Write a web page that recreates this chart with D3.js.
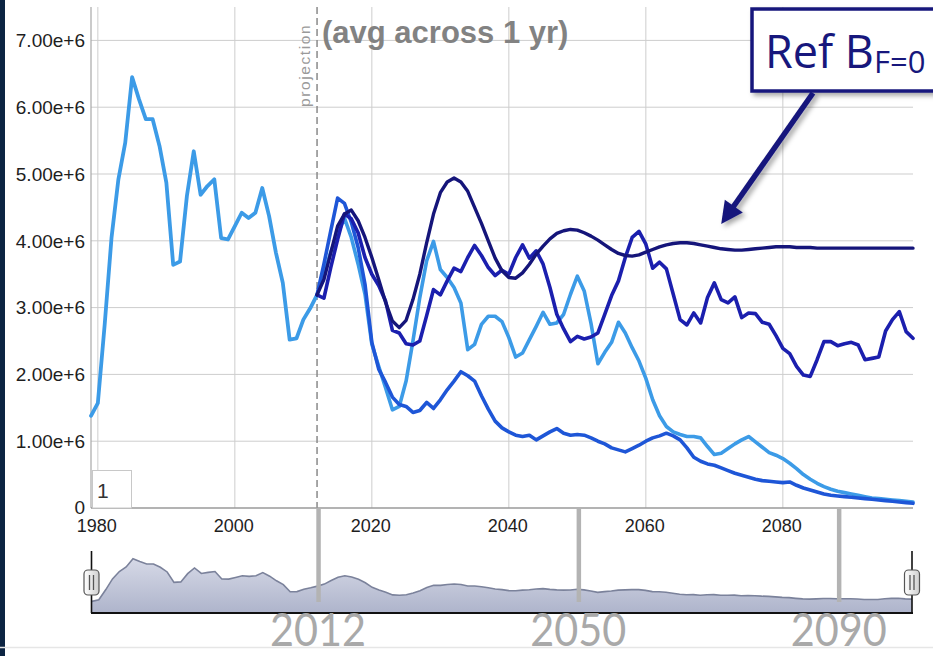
<!DOCTYPE html>
<html><head><meta charset="utf-8">
<script src="https://cdn.jsdelivr.net/npm/d3@7"></script>
<style>
html,body{margin:0;padding:0;background:#fff;overflow:hidden;}
svg{display:block;}
</style></head>
<body>
<svg id="c" width="933" height="656"></svg>
<script>
// ---------- DATA (values in millions) ----------
const histYears = d3.range(1979, 2013);
const histValues = [1.38,1.57,2.75,4.05,4.92,5.47,6.45,6.12,5.82,5.82,
                    5.42,4.87,3.64,3.69,4.67,5.34,4.69,4.82,4.92,4.04,
                    4.02,4.22,4.42,4.34,4.42,4.79,4.37,3.82,3.37,2.52,
                    2.54,2.82,2.99,3.19];
const projYears = d3.range(2012, 2100);
const refF0 = [3.19,3.42,3.82,4.22,4.40,4.46,4.30,4.05,3.75,3.42,
               3.08,2.80,2.70,2.81,3.12,3.50,3.97,4.40,4.72,4.88,
               4.94,4.88,4.74,4.50,4.26,4.00,3.74,3.55,3.45,3.44,
               3.52,3.65,3.80,3.92,4.03,4.11,4.15,4.17,4.16,4.12,
               4.07,4.01,3.94,3.87,3.81,3.78,3.77,3.79,3.83,3.87,
               3.91,3.94,3.96,3.97,3.97,3.96,3.94,3.92,3.90,3.88,
               3.87,3.86,3.86,3.87,3.88,3.89,3.90,3.91,3.91,3.91,
               3.90,3.90,3.90,3.89,3.89,3.89,3.89,3.89,3.89,3.89,
               3.89,3.89,3.89,3.89,3.89,3.89,3.89,3.89];
const scenZig = [3.19,3.14,3.60,4.02,4.40,4.33,4.12,3.75,3.50,3.33,
                 3.10,2.66,2.62,2.46,2.44,2.50,2.88,3.27,3.19,3.40,
                 3.59,3.54,3.75,3.93,3.78,3.60,3.48,3.56,3.50,3.75,
                 3.94,3.74,3.85,3.65,3.30,2.90,2.68,2.49,2.57,2.53,
                 2.56,2.62,2.90,3.18,3.40,3.75,4.05,4.14,3.95,3.59,
                 3.68,3.58,3.20,2.82,2.74,2.92,2.77,3.15,3.37,3.12,
                 3.07,3.16,2.85,2.92,2.91,2.78,2.75,2.58,2.39,2.31,
                 2.12,1.99,1.97,2.22,2.49,2.49,2.43,2.46,2.48,2.44,
                 2.22,2.24,2.26,2.65,2.82,2.94,2.64,2.54];
const scenMedium = [3.19,3.65,4.15,4.64,4.56,4.28,3.90,3.35,2.48,2.08,
                    1.88,1.66,1.55,1.52,1.43,1.46,1.58,1.49,1.62,1.77,
                    1.90,2.04,1.98,1.90,1.68,1.48,1.30,1.20,1.14,1.09,
                    1.07,1.09,1.02,1.08,1.14,1.19,1.12,1.09,1.10,1.09,
                    1.05,1.00,0.96,0.90,0.87,0.84,0.89,0.94,1.00,1.05,
                    1.08,1.12,1.08,1.02,0.90,0.76,0.70,0.66,0.64,0.60,
                    0.56,0.52,0.49,0.46,0.43,0.41,0.40,0.39,0.38,0.39,
                    0.34,0.30,0.27,0.24,0.21,0.19,0.18,0.17,0.16,0.15,
                    0.14,0.13,0.12,0.11,0.10,0.09,0.08,0.07];
const scenLight = [3.19,3.50,3.83,4.10,4.34,4.05,3.65,3.20,2.45,2.12,
                   1.80,1.47,1.52,1.90,2.50,3.15,3.70,3.99,3.57,3.45,
                   3.30,3.07,2.37,2.45,2.75,2.87,2.87,2.79,2.55,2.26,
                   2.32,2.52,2.72,2.93,2.75,2.77,2.90,3.20,3.47,3.25,
                   2.76,2.16,2.33,2.48,2.78,2.62,2.40,2.20,1.94,1.62,
                   1.38,1.22,1.14,1.10,1.07,1.07,1.05,0.92,0.80,0.82,
                   0.89,0.96,1.02,1.07,0.99,0.91,0.83,0.79,0.74,0.67,
                   0.59,0.50,0.43,0.37,0.32,0.28,0.25,0.23,0.21,0.19,
                   0.17,0.15,0.14,0.13,0.12,0.11,0.10,0.09];
const yTicks = [0,1e6,2e6,3e6,4e6,5e6,6e6,7e6];
const xTicks = [1980,2000,2020,2040,2060,2080];
const projectionYear = 2012;
const markerYears = [2012, 2050, 2088];
const markerLabels = ["2012", "2050", "2090"];
const UNIT = 1e6;

// ---------- SETUP ----------
const svg = d3.select("#c");
const x = d3.scaleLinear().domain([1979, 2099]).range([91, 913]);
const y = d3.scaleLinear().domain([0, 7.5e6]).range([508, 7]);
const x2 = d3.scaleLinear().domain([1979, 2099]).range([92, 912]);
const y2 = d3.scaleLinear().domain([0, 7e6]).range([613, 554]);

const defs = svg.append("defs");
const sh = defs.append("filter").attr("id","shadow").attr("x","-20%").attr("y","-20%").attr("width","150%").attr("height","150%");
sh.append("feDropShadow").attr("dx",3).attr("dy",3).attr("stdDeviation",2.5).attr("flood-color","#000").attr("flood-opacity",0.35);
const g1 = defs.append("linearGradient").attr("id","ovfill").attr("x1",0).attr("y1",0).attr("x2",0).attr("y2",1);
g1.append("stop").attr("offset","0%").attr("stop-color","#d6d9e7");
g1.append("stop").attr("offset","100%").attr("stop-color","#aeb4cb");
const g2 = defs.append("linearGradient").attr("id","hfill").attr("x1",0).attr("y1",0).attr("x2",1).attr("y2",0);
g2.append("stop").attr("offset","0%").attr("stop-color","#ffffff");
g2.append("stop").attr("offset","100%").attr("stop-color","#cfcfcf");

svg.append("rect").attr("width",933).attr("height",656).attr("fill","#fff");
svg.append("rect").attr("x",0).attr("y",0).attr("width",5).attr("height",656).attr("fill","#0c2442");

// gridlines
svg.append("g").selectAll("line").data(yTicks.filter(d=>d>0)).join("line")
  .attr("x1",x.range()[0]).attr("x2",x.range()[1])
  .attr("y1",d=>y(d)).attr("y2",d=>y(d))
  .attr("stroke","#cdcdcd").attr("stroke-width",1);
svg.append("g").selectAll("line").data(xTicks).join("line")
  .attr("x1",d=>x(d)).attr("x2",d=>x(d))
  .attr("y1",y.range()[1]).attr("y2",y(0))
  .attr("stroke","#cdcdcd").attr("stroke-width",1);
// left axis line
svg.append("line").attr("x1",x(1979)).attr("x2",x(1979)).attr("y1",y.range()[1]).attr("y2",y(0))
  .attr("stroke","#a8a8a8").attr("stroke-width",1.2);

// y tick labels
svg.append("g").selectAll("text").data(yTicks).join("text")
  .attr("x",85).attr("y",d=>d===0 ? y(d)-1 : y(d)).attr("dy","0.36em")
  .attr("text-anchor","end")
  .attr("font-family","Liberation Sans, Arial, sans-serif").attr("font-size",19)
  .attr("fill","#1e1e1e")
  .text(d => d===0 ? "0" : d3.format(".2e")(d));
// x tick labels
svg.append("g").selectAll("text").data(xTicks).join("text")
  .attr("x",d=>x(d)-1).attr("y",532)
  .attr("text-anchor","middle")
  .attr("font-family","Liberation Sans, Arial, sans-serif").attr("font-size",18)
  .attr("fill","#1e1e1e")
  .text(d=>d);

// projection dashed line + labels
svg.append("line").attr("x1",x(projectionYear)).attr("x2",x(projectionYear))
  .attr("y1",y.range()[1]).attr("y2",y(0))
  .attr("stroke","#8a8a8a").attr("stroke-width",1.5).attr("stroke-dasharray","7,4");
svg.append("text").attr("transform",`translate(${x(projectionYear)-7},107) rotate(-90)`)
  .attr("font-family","Liberation Sans, Arial, sans-serif").attr("font-size",15.5)
  .attr("letter-spacing","1.6px")
  .attr("fill","#9a9a9a").text("projection");

// series lines
const line = d3.line().x(d=>x(d[0])).y(d=>y(d[1]*UNIT));
const pairs = (ys, vs) => ys.map((yr,i)=>[yr, vs[i]]);
const series = [
  {vals: scenLight, color: "#3c9be7", w: 3.6},
  {vals: scenMedium, color: "#1e56d7", w: 3.6},
  {vals: scenZig, color: "#1b1fae", w: 3.6},
  {vals: refF0, color: "#15157a", w: 3.4}
];
svg.append("path").datum(pairs(histYears, histValues))
  .attr("d", line).attr("fill","none").attr("stroke","#3c9be7")
  .attr("stroke-width",3.8).attr("stroke-linejoin","round").attr("stroke-linecap","round");
svg.append("g").selectAll("path").data(series).join("path")
  .attr("d", s => line(pairs(projYears, s.vals)))
  .attr("fill","none").attr("stroke", s=>s.color).attr("stroke-width", s=>s.w)
  .attr("stroke-linejoin","round").attr("stroke-linecap","round");

// bottom axis line
svg.append("line").attr("x1",x.range()[0]).attr("x2",x.range()[1]).attr("y1",y(0)).attr("y2",y(0))
  .attr("stroke","#9a9a9a").attr("stroke-width",1.5);

// "1" box
svg.append("rect").attr("x",92.5).attr("y",470.5).attr("width",39).attr("height",37.5)
  .attr("fill","#fff").attr("stroke","#c8c8c8").attr("stroke-width",1);
svg.append("text").attr("x",97).attr("y",498)
  .attr("font-family","Liberation Sans, Arial, sans-serif").attr("font-size",21)
  .attr("fill","#333").text("1");

// title
svg.append("text").attr("x",322).attr("y",43)
  .attr("font-family","Liberation Sans, Arial, sans-serif").attr("font-size",31)
  .attr("font-weight","bold").attr("fill","#828282")
  .text("(avg across 1 yr)");

// ---------- overview / range selector ----------
const ovData = histYears.slice(0,-1).map((yr,i)=>[yr, histValues[i]])
  .concat(projYears.map((yr,i)=>[yr, d3.mean(series, s=>s.vals[i])]));
const area = d3.area().x(d=>x2(d[0])).y0(y2(0)).y1(d=>y2(d[1]*UNIT));
svg.append("path").datum(ovData).attr("d",area).attr("fill","url(#ovfill)");
svg.append("path").datum(ovData).attr("d",d3.line().x(d=>x2(d[0])).y(d=>y2(d[1]*UNIT)))
  .attr("fill","none").attr("stroke","#7b829b").attr("stroke-width",1.6);
svg.append("line").attr("x1",91).attr("x2",913).attr("y1",613).attr("y2",613)
  .attr("stroke","#111").attr("stroke-width",2);
// handles
[x2.range()[0]-0.5, x2.range()[1]].forEach(hx=>{
  svg.append("line").attr("x1",hx).attr("x2",hx).attr("y1",551).attr("y2",613)
    .attr("stroke","#111").attr("stroke-width",1.6);
  svg.append("rect").attr("x",hx-7.5).attr("y",570).attr("width",15).attr("height",25).attr("rx",4)
    .attr("fill","url(#hfill)").attr("stroke","#555").attr("stroke-width",1.2);
  [-2,2].forEach(o=>svg.append("line").attr("x1",hx+o).attr("x2",hx+o).attr("y1",575).attr("y2",590)
    .attr("stroke","#555").attr("stroke-width",1.3));
});

// ---------- overlay annotations ----------
svg.append("line").attr("x1",0).attr("x2",933).attr("y1",647.5).attr("y2",647.5)
  .attr("stroke","#e6e6e6").attr("stroke-width",1.5);
svg.append("g").selectAll("line").data(markerYears).join("line")
  .attr("x1",d=>x(d)+1.5).attr("x2",d=>x(d)+1.5).attr("y1",508).attr("y2",602)
  .attr("stroke","#b3b3b3").attr("stroke-width",4.5);
svg.append("g").selectAll("text").data(markerYears).join("text")
  .attr("x",d=>x(d)+1).attr("y",646)
  .attr("text-anchor","middle")
  .attr("font-family","Lato, Open Sans, sans-serif").attr("font-size",46)
  .attr("textLength",96).attr("lengthAdjust","spacingAndGlyphs")
  .attr("fill","#a9a9a9")
  .text((d,i)=>markerLabels[i]);

// callout box + arrow
const ann = svg.append("g").attr("filter","url(#shadow)");
const tip = [x(2071), y(4.25e6)];
const start = [813, 93];
const dx = tip[0]-start[0], dy = tip[1]-start[1], L = Math.hypot(dx,dy);
const ux = dx/L, uy = dy/L, px = -uy, py = ux;
const bc = [tip[0]-ux*22, tip[1]-uy*22];
ann.append("line").attr("x1",start[0]).attr("y1",start[1]).attr("x2",bc[0]+ux*3).attr("y2",bc[1]+uy*3)
  .attr("stroke","#17177c").attr("stroke-width",5.5);
ann.append("polygon")
  .attr("points",[tip, [bc[0]+px*11, bc[1]+py*11], [bc[0]-px*11, bc[1]-py*11]].map(p=>p.join(",")).join(" "))
  .attr("fill","#17177c");
ann.append("rect").attr("x",752).attr("y",9).attr("width",190).attr("height",82)
  .attr("fill","#fff").attr("stroke","#17177c").attr("stroke-width",3.5);
const t = svg.append("text").attr("x",765).attr("y",68)
  .attr("font-family","Open Sans, Noto Sans, sans-serif").attr("font-size",45)
  .attr("fill","#17177c");
t.append("tspan").text("Ref B");
t.append("tspan").attr("font-size",31).attr("dy",5).text("F=0");
</script>
</body></html>
